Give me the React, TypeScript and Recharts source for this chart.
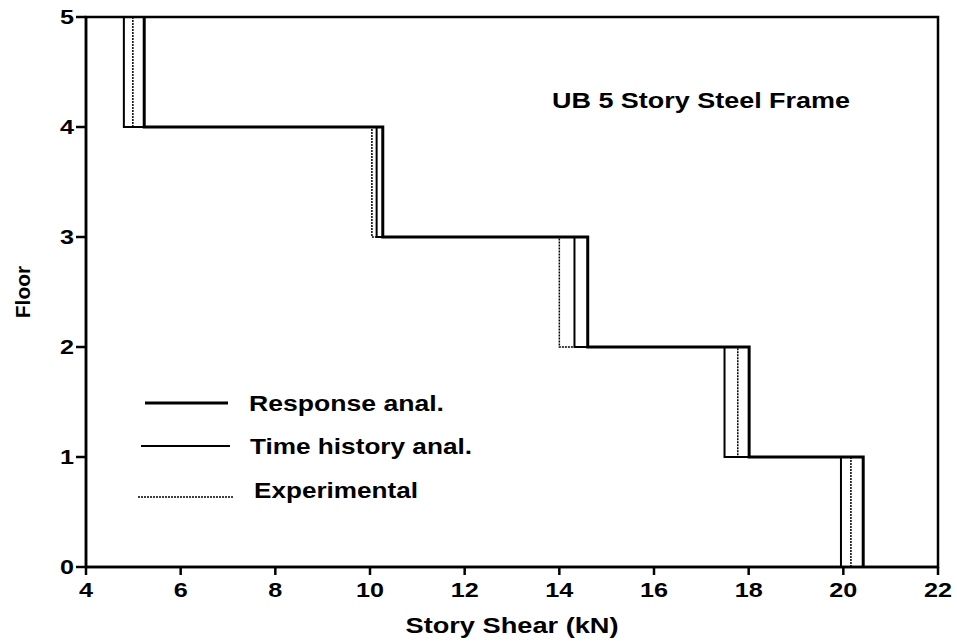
import React from "react";
import {
  Label,
  Legend,
  Line,
  LineChart,
  ReferenceArea,
  XAxis,
  YAxis,
} from "recharts";

// story shear per story (story 1 .. story 5), kN
const floors = [0, 1, 2, 3, 4, 5];
const responseShear = [20.42, 18.01, 14.6, 10.27, 5.23];
const timeHistoryShear = [19.95, 17.49, 14.32, 10.14, 4.8];
const experimentalShear = [20.16, 17.77, 14.0, 10.04, 4.99];

const xTicks = [4, 6, 8, 10, 12, 14, 16, 18, 20, 22];
const yTicks = [0, 1, 2, 3, 4, 5];

const FONT = '"Liberation Sans", Arial, Helvetica, sans-serif';

// step profile: vertical at each story's shear, horizontal at each floor
const steps = (shear: number[]) =>
  shear.flatMap((v, i) => [
    { x: v, y: floors[i] },
    { x: v, y: floors[i + 1] },
  ]);

const responseData = steps(responseShear);
const timeHistoryData = steps(timeHistoryShear);
const experimentalData = steps(experimentalShear);

const XTick = (props: any) => {
  const { x, y, payload } = props;
  const s = String(payload.value);
  return (
    <text
      x={x}
      y={y + 20}
      textAnchor="middle"
      fontFamily={FONT}
      fontWeight="bold"
      fontSize={20}
      fill="#000"
      textLength={s.length * 14}
      lengthAdjust="spacingAndGlyphs"
    >
      {s}
    </text>
  );
};

const YTick = (props: any) => {
  const { x, y, payload } = props;
  const s = String(payload.value);
  return (
    <text
      x={x}
      y={y + 7}
      textAnchor="end"
      fontFamily={FONT}
      fontWeight="bold"
      fontSize={20}
      fill="#000"
      textLength={s.length * 14}
      lengthAdjust="spacingAndGlyphs"
    >
      {s}
    </text>
  );
};

const XTitle = (props: any) => {
  const vb = props.viewBox;
  return (
    <text
      x={vb.x + vb.width / 2}
      y={vb.y + 66}
      textAnchor="middle"
      fontFamily={FONT}
      fontWeight="bold"
      fontSize={22}
      fill="#000"
      textLength={213}
      lengthAdjust="spacingAndGlyphs"
    >
      Story Shear (kN)
    </text>
  );
};

const YTitle = (props: any) => {
  const vb = props.viewBox;
  const cx = vb.x;
  const cy = vb.y + vb.height / 2;
  return (
    <text
      x={cx}
      y={cy}
      transform={`rotate(-90, ${cx}, ${cy})`}
      textAnchor="middle"
      fontFamily={FONT}
      fontWeight="bold"
      fontSize={21}
      fill="#000"
    >
      Floor
    </text>
  );
};

const ChartTitle = (props: any) => {
  const vb = props.viewBox;
  return (
    <text
      x={vb.x + vb.width - 88}
      y={vb.y + 91}
      textAnchor="end"
      fontFamily={FONT}
      fontWeight="bold"
      fontSize={22}
      fill="#000"
      textLength={298}
      lengthAdjust="spacingAndGlyphs"
    >
      UB 5 Story Steel Frame
    </text>
  );
};

const legendRows = [
  { name: "Response anal.", width: 3, dash: undefined, x1: 15, x2: 98, textX: 119, textLen: 195, y: 23 },
  { name: "Time history anal.", width: 2, dash: undefined, x1: 11, x2: 100, textX: 120, textLen: 222, y: 66 },
  { name: "Experimental", width: 1.5, dash: "2 1", x1: 8, x2: 103, textX: 124, textLen: 164, y: 110 },
];

const LegendBox = () => (
  <svg width={360} height={130}>
    {legendRows.map((r) => (
      <g key={r.name}>
        <line
          x1={r.x1}
          x2={r.x2}
          y1={r.y + (r.dash ? 7 : 0)}
          y2={r.y + (r.dash ? 7 : 0)}
          stroke="#000"
          strokeWidth={r.width}
          strokeDasharray={r.dash}
        />
        <text
          x={r.textX}
          y={r.y + 8}
          fontFamily={FONT}
          fontWeight="bold"
          fontSize={22}
          fill="#000"
          textLength={r.textLen}
          lengthAdjust="spacingAndGlyphs"
        >
          {r.name}
        </text>
      </g>
    ))}
  </svg>
);

export default function App() {
  return (
    <div style={{ position: "absolute", left: 0, top: 0, background: "#fff" }}>
      <LineChart
        width={957}
        height={644}
        margin={{ top: 17, right: 19, bottom: 27, left: 30 }}
      >
        <XAxis
          type="number"
          dataKey="x"
          domain={[4, 22]}
          ticks={xTicks}
          allowDataOverflow
          height={50}
          stroke="#000"
          strokeWidth={2.5}
          tickSize={8}
          tickMargin={2}
          tick={<XTick />}
          label={<Label content={<XTitle />} />}
        />
        <YAxis
          type="number"
          dataKey="y"
          domain={[0, 5]}
          ticks={yTicks}
          width={56}
          stroke="#000"
          strokeWidth={2.5}
          tickSize={10}
          tickMargin={2}
          tick={<YTick />}
          label={<Label content={<YTitle />} />}
        />
        <ReferenceArea
          x1={4}
          x2={22}
          y1={0}
          y2={5}
          fill="none"
          stroke="#000"
          strokeWidth={2.5}
          ifOverflow="visible"
        >
          <Label content={<ChartTitle />} />
        </ReferenceArea>
        <Line
          data={responseData}
          dataKey="y"
          name="Response anal."
          type="linear"
          stroke="#000"
          strokeWidth={3}
          dot={false}
          isAnimationActive={false}
        />
        <Line
          data={timeHistoryData}
          dataKey="y"
          name="Time history anal."
          type="linear"
          stroke="#000"
          strokeWidth={2}
          dot={false}
          isAnimationActive={false}
        />
        <Line
          data={experimentalData}
          dataKey="y"
          name="Experimental"
          type="linear"
          stroke="#000"
          strokeWidth={1.5}
          strokeDasharray="2 1"
          dot={false}
          isAnimationActive={false}
        />
        <Legend
          layout="horizontal"
          verticalAlign="middle"
          align="center"
          content={<LegendBox />}
          wrapperStyle={{ left: 130, top: 380, width: 360, height: 130 }}
        />
      </LineChart>
    </div>
  );
}
